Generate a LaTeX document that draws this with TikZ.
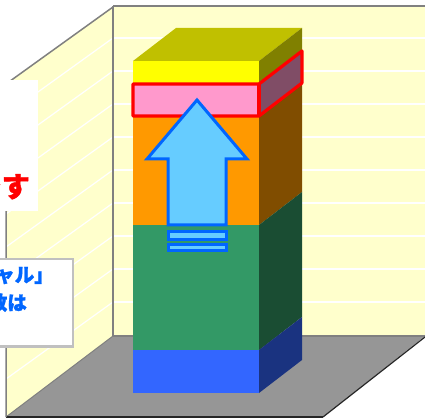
\documentclass[tikz,border=0pt]{standalone}
\usepackage{fontspec}
\newfontfamily\jp{Noto Sans CJK JP}[BoldFeatures={FakeBold=1.5}]
\definecolor{wallc}{RGB}{255,255,204}
\definecolor{edgec}{RGB}{128,128,128}
\definecolor{floorc}{RGB}{150,150,150}
\definecolor{yel}{RGB}{255,255,0}
\definecolor{yeltop}{RGB}{192,192,0}
\definecolor{yelside}{RGB}{128,128,0}
\definecolor{pnk}{RGB}{255,153,204}
\definecolor{pnkside}{RGB}{128,77,102}
\definecolor{org}{RGB}{255,153,0}
\definecolor{orgside}{RGB}{128,77,0}
\definecolor{grn}{RGB}{51,153,102}
\definecolor{grnside}{RGB}{26,77,51}
\definecolor{blu}{RGB}{51,102,255}
\definecolor{bluside}{RGB}{26,51,128}
\definecolor{arrfill}{RGB}{102,204,255}
\definecolor{arrline}{RGB}{0,102,255}
\definecolor{txtblue}{RGB}{0,102,255}
\definecolor{boxline}{RGB}{192,192,192}
\tikzset{
  wline/.style={white,line width=1.2pt},
  wedge/.style={edgec,line width=1.5pt},
  arrowpart/.style={fill=arrfill,draw=arrline,line width=3pt,line join=miter},
  redrim/.style={draw=red,line width=3.2pt,line join=round},
  jpred/.style={font=\jp\bfseries\fontsize{28}{31}\selectfont,text=red,inner sep=0pt},
  jpblue/.style={font=\jp\bfseries\fontsize{19.5}{22}\selectfont,text=txtblue,inner sep=0pt}
}
\begin{document}
\begin{tikzpicture}[x=1pt,y=-1pt]
\useasboundingbox (0,0) rectangle (425,419);
\fill[white] (0,0) rectangle (425,419);
% back wall
\fill[wallc] (113,6) rectangle (425,336);
\foreach \y in {38,71,104,137,170,203,236,269,302}
  \draw[wline] (113,\y) -- (425,\y);
% left wall
\fill[wallc] (113,7) -- (6,84) -- (6,417) -- (113,336) -- cycle;
\begin{scope}
  \clip (113,7) -- (6,84) -- (6,417) -- (113,336) -- cycle;
  \foreach \y in {38,71,104,137,170,203,236,269,302}
    \draw[wline] (113,\y) -- (6,\y+77);
\end{scope}
% floor
\fill[floorc] (113,336) -- (425,336) -- (323,417) -- (6,417) -- cycle;
\draw[edgec,line width=2pt] (113,336) -- (425,336);
\draw[edgec,line width=1pt] (6,417) -- (113,336);
\draw[black!85,line width=1.2pt] (425,337) -- (323,417);
\draw[black!85,line width=2pt] (6,417) -- (323,417);
% wall edges
\draw[wedge] (113,6) -- (425,6);
\draw[wedge] (113,6) -- (113,336);
\draw[wedge] (113,7) -- (6,84) -- (6,417);
% column front faces
\fill[yel] (133,61) rectangle (259,84);
\fill[pnk] (133,84) rectangle (259,116);
\fill[org] (133,116) rectangle (259,225);
\fill[grn] (133,225) rectangle (259,350);
\fill[blu] (133,350) rectangle (259,393);
% top face
\fill[yeltop] (133,61) -- (176,28) -- (302,28) -- (259,61) -- cycle;
% side faces
\fill[yelside] (259,61) -- (302,28) -- (302,51) -- (259,84) -- cycle;
\fill[pnkside] (259,84) -- (302,51) -- (302,83) -- (259,116) -- cycle;
\fill[orgside] (259,116) -- (302,83) -- (302,192) -- (259,225) -- cycle;
\fill[grnside] (259,225) -- (302,192) -- (302,317) -- (259,350) -- cycle;
\fill[bluside] (259,350) -- (302,317) -- (302,360) -- (259,393) -- cycle;
% red rim around pink layer
\draw[redrim] (133,84) -- (259,84) -- (302,51) -- (302,83) -- (259,116) -- (133,116) -- cycle;
\draw[redrim] (259,84) -- (259,116);
% arrow
\draw[arrowpart] (197,100) -- (247,159) -- (226,159) -- (226,225) -- (168,225) -- (168,159) -- (147,159) -- cycle;
\draw[arrowpart] (168,232) rectangle (226,239.5);
\draw[arrowpart] (168,245) rectangle (226,250.5);
% text boxes
\node[fill=white,minimum width=60pt,minimum height=131pt,inner sep=0pt,anchor=north east] (box1) at (38,80) {};
\node[jpred,anchor=base east] (t1) at (30,197) {です};
\node[fill=white,draw=boxline,line width=2.5pt,minimum width=100pt,minimum height=87pt,inner sep=0pt,anchor=north east] (box2) at (74,258) {};
\node[jpblue,anchor=base east] (t2) at (54,282) {シャル」};
\node[jpblue,anchor=base east] (t3) at (27,310) {の数は};
\end{tikzpicture}
\end{document}
